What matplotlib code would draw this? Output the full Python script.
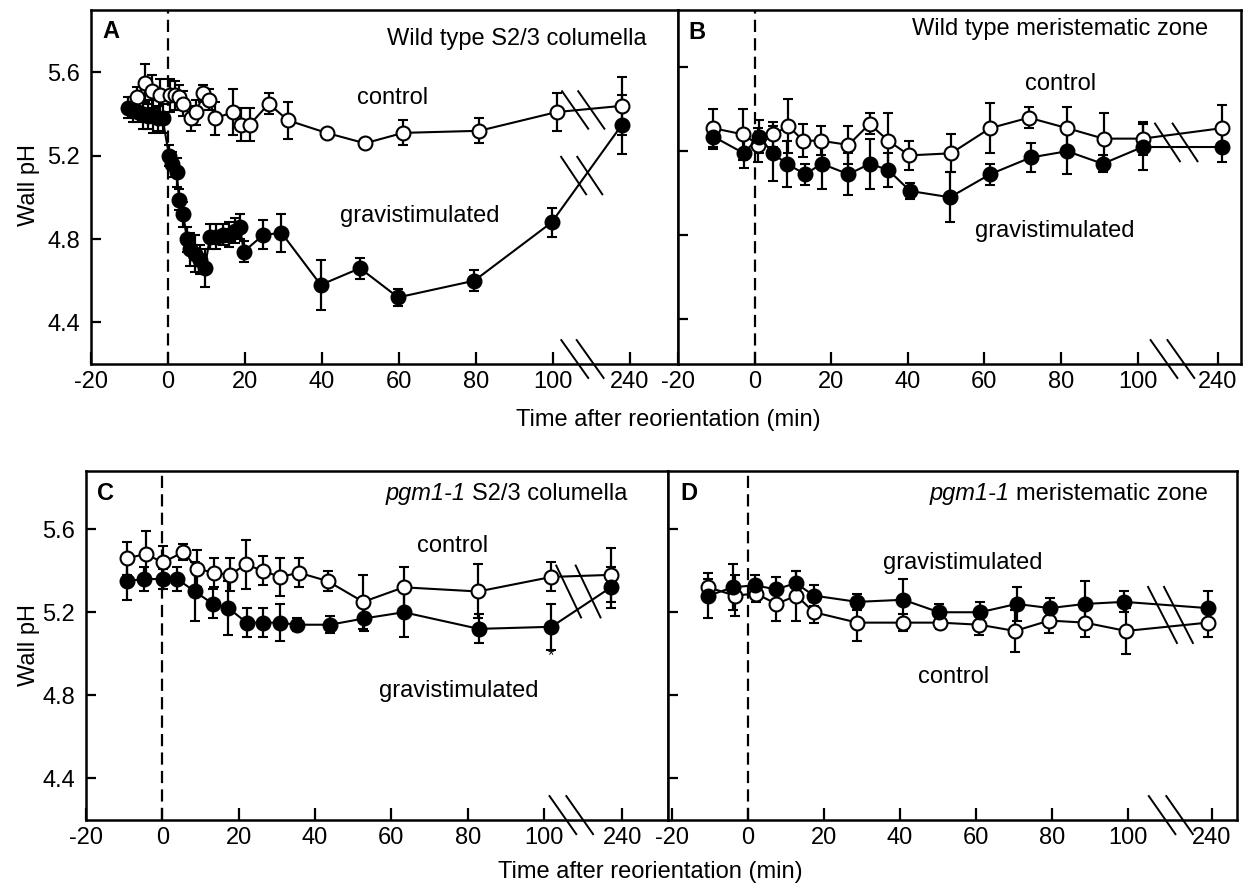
import matplotlib
matplotlib.use("Agg")
import matplotlib.pyplot as plt
import matplotlib.transforms as mtransforms
import numpy as np

plt.rcParams['font.family'] = ['Liberation Sans', 'DejaVu Sans']
plt.rcParams['font.size'] = 17

# ---- data (time in min, wall pH, error) ----
# A: wild type S2/3 columella
a_ctrl_t = [-8.1, -6.0, -4.2, -2.1, 0.5, 1.8, 2.9, 4.0, 6.1, 7.4, 9.2, 10.7, 12.2, 17.0,
            19.1, 21.3, 26.2, 31.2, 41.2, 51.2, 61.1, 80.9, 101.0, 238]
a_ctrl_ph = [5.48, 5.55, 5.51, 5.49, 5.49, 5.49, 5.48, 5.45, 5.38, 5.41, 5.50, 5.47, 5.38, 5.41,
             5.35, 5.35, 5.45, 5.37, 5.31, 5.26, 5.31, 5.32, 5.41, 5.44]
a_ctrl_err = [0.05, 0.09, 0.08, 0.08, 0.08, 0.07, 0.06, 0.06, 0.06, 0.06, 0.04, 0.05, 0.08, 0.11,
              0.08, 0.08, 0.05, 0.09, 0.02, 0.02, 0.06, 0.06, 0.09, 0.14]
a_grav_t = [-10.3, -9.0, -7.7, -6.4, -5.1, -3.8, -2.5, -1.4, 0.3, 1.0, 2.3, 2.9, 4.0, 4.9, 5.7,
            7.0, 8.3, 9.6, 10.9, 12.6, 14.4, 15.9, 17.4, 18.7, 19.7, 24.8, 29.5, 39.7, 49.9,
            59.8, 79.6, 99.7, 238]
a_grav_ph = [5.43, 5.42, 5.41, 5.40, 5.39, 5.39, 5.38, 5.38, 5.20, 5.16, 5.12, 4.99, 4.92, 4.80,
             4.75, 4.73, 4.70, 4.66, 4.81, 4.81, 4.82, 4.82, 4.84, 4.86, 4.74, 4.82, 4.83, 4.58,
             4.66, 4.52, 4.60, 4.88, 5.35]
a_grav_err = [0.05, 0.06, 0.05, 0.07, 0.06, 0.08, 0.06, 0.07, 0.05, 0.06, 0.07, 0.05, 0.06, 0.06,
              0.08, 0.09, 0.07, 0.09, 0.06, 0.06, 0.05, 0.06, 0.06, 0.06, 0.05, 0.07, 0.09, 0.12,
              0.05, 0.04, 0.05, 0.07, 0.14]

# B: wild type meristematic zone
b_ctrl_t = [-10.8, -3.0, 1.0, 4.9, 8.8, 12.7, 17.3, 24.5, 30.0, 34.9, 40.4, 51.3, 61.5, 71.6,
            81.6, 91.1, 101.3, 241]
b_ctrl_ph = [5.31, 5.28, 5.23, 5.28, 5.32, 5.25, 5.25, 5.23, 5.33, 5.25, 5.18, 5.19, 5.31, 5.36,
             5.31, 5.26, 5.26, 5.31]
b_ctrl_err = [0.09, 0.12, 0.08, 0.06, 0.13, 0.08, 0.07, 0.09, 0.05, 0.13, 0.07, 0.09, 0.12, 0.05,
              0.10, 0.12, 0.08, 0.11]
b_grav_t = [-10.8, -2.8, 1.2, 4.7, 8.4, 13.2, 17.5, 24.5, 30.1, 34.9, 40.6, 51.0, 61.5, 72.1,
            81.6, 90.9, 101.3, 241]
b_grav_ph = [5.27, 5.19, 5.27, 5.19, 5.14, 5.09, 5.14, 5.09, 5.14, 5.11, 5.01, 4.98, 5.09, 5.17,
             5.20, 5.14, 5.22, 5.22]
b_grav_err = [0.06, 0.07, 0.08, 0.13, 0.11, 0.05, 0.12, 0.10, 0.12, 0.08, 0.04, 0.12, 0.05, 0.07,
              0.11, 0.04, 0.11, 0.07]

# C: pgm1-1 S2/3 columella
c_ctrl_t = [-9.3, -4.4, 0.2, 5.5, 9.1, 13.5, 17.7, 21.8, 26.3, 30.8, 35.8, 43.3, 52.6, 63.2,
            82.7, 101.9, 237]
c_ctrl_ph = [5.46, 5.48, 5.44, 5.49, 5.41, 5.39, 5.38, 5.43, 5.40, 5.37, 5.39, 5.35, 5.25, 5.32,
             5.30, 5.37, 5.38]
c_ctrl_err = [0.08, 0.11, 0.08, 0.04, 0.09, 0.07, 0.08, 0.12, 0.07, 0.09, 0.07, 0.05, 0.13, 0.10,
              0.13, 0.07, 0.13]
c_grav_t = [-9.3, -4.8, 0.2, 3.9, 8.5, 13.3, 17.3, 22.1, 26.4, 30.8, 35.2, 43.9, 52.8, 63.2,
            82.9, 101.9, 237]
c_grav_ph = [5.35, 5.36, 5.36, 5.36, 5.30, 5.24, 5.22, 5.15, 5.15, 5.15, 5.14, 5.14, 5.17, 5.20,
             5.12, 5.13, 5.32]
c_grav_err = [0.09, 0.06, 0.05, 0.06, 0.14, 0.07, 0.13, 0.07, 0.07, 0.09, 0.03, 0.04, 0.06, 0.12,
              0.07, 0.11, 0.10]

# D: pgm1-1 meristematic zone
d_grav_t = [-10.4, -3.9, 1.8, 7.4, 12.6, 17.4, 28.8, 40.9, 50.3, 61.1, 70.7, 79.5, 88.7, 99.0, 239]
d_grav_ph = [5.28, 5.32, 5.33, 5.31, 5.34, 5.28, 5.25, 5.26, 5.20, 5.20, 5.24, 5.22, 5.24, 5.25, 5.22]
d_grav_err = [0.11, 0.11, 0.05, 0.06, 0.06, 0.05, 0.04, 0.10, 0.04, 0.05, 0.08, 0.05, 0.11, 0.05, 0.08]
d_ctrl_t = [-10.4, -3.4, 2.1, 7.5, 12.8, 17.4, 28.8, 40.9, 50.5, 60.9, 70.3, 79.3, 88.7, 99.5, 239]
d_ctrl_ph = [5.32, 5.28, 5.29, 5.24, 5.28, 5.20, 5.15, 5.15, 5.15, 5.14, 5.11, 5.16, 5.15, 5.11, 5.15]
d_ctrl_err = [0.04, 0.10, 0.04, 0.08, 0.12, 0.05, 0.09, 0.04, 0.03, 0.05, 0.10, 0.06, 0.07, 0.11, 0.07]

xtick_vals = [-20, 0, 20, 40, 60, 80, 100, 240]
ytick_vals = [4.4, 4.8, 5.2, 5.6]


def squash(t, shift):
    # times after the axis break are pulled left by "shift" minutes
    t = np.asarray(t, dtype=float)
    return np.where(t > 200, t - shift, t)


def draw_break(ax, xs, yc, h, w, trans):
    for x0 in xs:
        ax.plot([x0 - w / 2, x0 + w / 2], [yc + h / 2, yc - h / 2], color='k', lw=1.4,
                transform=trans, clip_on=False, zorder=5)


def setup(ax, shift, xlim, ylim, labels):
    ax.set_xlim(*xlim)
    ax.set_ylim(*ylim)
    ax.set_xticks(squash(xtick_vals, shift))
    ax.set_xticklabels([str(v) for v in xtick_vals])
    ax.set_yticks(ytick_vals)
    ax.set_yticklabels([f'{v:.1f}' for v in ytick_vals])
    ax.tick_params(axis='x', direction='in', length=8.5, width=1.6, pad=5)
    ax.tick_params(axis='y', direction='in', length=7.5, width=1.6, pad=8, labelleft=labels)
    for s in ax.spines.values():
        s.set_linewidth(1.8)
    ax.axvline(0, color='k', lw=1.6, ls=(0, (5.5, 2.8)), zorder=1)


def series(ax, t, ph, err, shift, filled):
    ax.errorbar(squash(t, shift), ph, yerr=err, fmt='o-', color='k', lw=1.5,
                ms=10, mfc='k' if filled else 'white', mec='k', mew=1.5,
                elinewidth=1.6, capsize=3.8, capthick=1.6, zorder=3)


fig = plt.figure(figsize=(12.51, 8.88), dpi=100)
axA = fig.add_axes([0.0727, 0.5901, 0.4692, 0.3986])
axB = fig.add_axes([0.5420, 0.5901, 0.4500, 0.3986])
axC = fig.add_axes([0.0687, 0.0766, 0.4652, 0.3930])
axD = fig.add_axes([0.5340, 0.0766, 0.4548, 0.3930])

# panel A
setup(axA, 120, (-20, 132.5), (4.2, 5.9), True)
series(axA, a_ctrl_t, a_ctrl_ph, a_ctrl_err, 120, False)
series(axA, a_grav_t, a_grav_ph, a_grav_err, 120, True)
draw_break(axA, [105.7, 109.7], 0.014, 0.107, 7, mtransforms.blended_transform_factory(axA.transData, axA.transAxes))
draw_break(axA, [105.8, 110.0], 5.42, 0.18, 6.8, axA.transData)
draw_break(axA, [105.4, 109.6], 5.105, 0.18, 6.5, axA.transData)
axA.text(0.020, 0.921, 'A', transform=axA.transAxes, fontweight='bold', va='baseline')
axA.text(0.947, 0.901, 'Wild type S2/3 columella', transform=axA.transAxes, ha='right', va='baseline')
axA.text(49.1, 5.45, 'control', va='baseline')
axA.text(44.7, 4.88, 'gravistimulated', va='baseline')

# panel B
setup(axB, 119, (-20, 127), (4.184, 5.874), False)
series(axB, b_ctrl_t, b_ctrl_ph, b_ctrl_err, 119, False)
series(axB, b_grav_t, b_grav_ph, b_grav_err, 119, True)
draw_break(axB, [106.9, 111.3], 0.014, 0.107, 7, mtransforms.blended_transform_factory(axB.transData, axB.transAxes))
draw_break(axB, [107.8, 112.4], 5.242, 0.18, 6.5, axB.transData)
axB.text(0.018, 0.918, 'B', transform=axB.transAxes, fontweight='bold', va='baseline')
axB.text(0.941, 0.929, 'Wild type meristematic zone', transform=axB.transAxes, ha='right', va='baseline')
axB.text(70.6, 5.49, 'control', va='baseline')
axB.text(57.5, 4.79, 'gravistimulated', va='baseline')

# panel C
setup(axC, 119.5, (-20, 132.4), (4.2, 5.88), True)
series(axC, c_ctrl_t, c_ctrl_ph, c_ctrl_err, 119.5, False)
series(axC, c_grav_t, c_grav_ph, c_grav_err, 119.5, True)
draw_break(axC, [104.9, 109.3], 0.014, 0.109, 7, mtransforms.blended_transform_factory(axC.transData, axC.transAxes))
draw_break(axC, [106.4, 111.5], 5.30, 0.25, 6.5, axC.transData)
axC.text(0.019, 0.917, 'C', transform=axC.transAxes, fontweight='bold', va='baseline')
tC = axC.text(0.931, 0.917, 'S2/3 columella', transform=axC.transAxes, ha='right', va='baseline')
axC.annotate('pgm1-1', xy=(0, 0), xycoords=tC, xytext=(-5, 0), textcoords='offset points',
             ha='right', va='bottom', style='italic')
axC.text(66.6, 5.49, 'control', va='baseline')
axC.text(56.7, 4.79, 'gravistimulated', va='baseline')
axC.text(101.9, 4.99, '*', ha='center', va='center', fontsize=12)

# panel D
setup(axD, 118, (-21, 128.7), (4.2, 5.88), False)
series(axD, d_ctrl_t, d_ctrl_ph, d_ctrl_err, 118, False)
series(axD, d_grav_t, d_grav_ph, d_grav_err, 118, True)
draw_break(axD, [109.0, 113.6], 0.014, 0.109, 7, mtransforms.blended_transform_factory(axD.transData, axD.transAxes))
draw_break(axD, [109.1, 113.3], 5.187, 0.27, 7.6, axD.transData)
axD.text(0.021, 0.917, 'D', transform=axD.transAxes, fontweight='bold', va='baseline')
tD = axD.text(0.949, 0.917, 'meristematic zone', transform=axD.transAxes, ha='right', va='baseline')
axD.annotate('pgm1-1', xy=(0, 0), xycoords=tD, xytext=(-5, 0), textcoords='offset points',
             ha='right', va='bottom', style='italic')
axD.text(35.5, 5.41, 'gravistimulated', va='baseline')
axD.text(44.7, 4.86, 'control', va='baseline')

fig.text(0.023, 1 - 185 / 888, 'Wall pH', rotation=90, ha='center', va='center')
fig.text(0.023, 1 - 645 / 888, 'Wall pH', rotation=90, ha='center', va='center')
fig.text(668 / 1251, 1 - 420 / 888, 'Time after reorientation (min)', ha='center', va='center')
fig.text(650 / 1251, 1 - 872 / 888, 'Time after reorientation (min)', ha='center', va='center')

fig.savefig('out.png', dpi=100)
